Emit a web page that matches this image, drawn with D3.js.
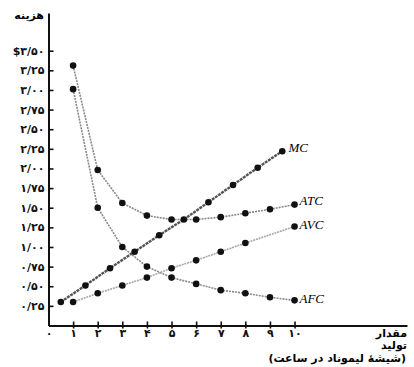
<!DOCTYPE html>
<html>
<head>
<meta charset="utf-8">
<script src="https://cdn.jsdelivr.net/npm/d3@7"></script>
<style>
  body { margin: 0; background: #fff; }
  .fa { font-family: "DejaVu Sans", sans-serif; font-weight: bold; }
  .curve-label { font-family: "Liberation Serif", serif; font-style: italic; font-size: 13px; }
</style>
</head>
<body>
<div id="chart"></div>
<script>
// quantities (lemonade bottles per hour)
var quantities = [1, 2, 3, 4, 5, 6, 7, 8, 9, 10];
var atcValues = [3.31, 1.98, 1.56, 1.40, 1.35, 1.35, 1.38, 1.43, 1.48, 1.54];
var afcValues = [3.01, 1.50, 1.00, 0.75, 0.61, 0.53, 0.45, 0.41, 0.36, 0.32];
// AVC has no dot drawn at 9
var avcQuantities = [1, 2, 3, 4, 5, 6, 7, 8, 10];
var avcValues = [0.30, 0.41, 0.51, 0.61, 0.73, 0.83, 0.94, 1.05, 1.26];
// MC is plotted between quantities
var mcQuantities = [0.5, 1.5, 2.5, 3.5, 4.5, 5.5, 6.5, 7.5, 8.5, 9.5];
var mcValues = [0.30, 0.51, 0.73, 0.94, 1.15, 1.35, 1.57, 1.79, 2.01, 2.22];

var yTicks = [0.25, 0.5, 0.75, 1, 1.25, 1.5, 1.75, 2, 2.25, 2.5, 2.75, 3, 3.25, 3.5];
var yTickLabels = ["۰/۲۵", "۰/۵۰", "۰/۷۵", "۱/۰۰", "۱/۲۵", "۱/۵۰", "۱/۷۵", "۲/۰۰",
                   "۲/۲۵", "۲/۵۰", "۲/۷۵", "۳/۰۰", "۳/۲۵", "$۳/۵۰"];
var xTicks = [0, 1, 2, 3, 4, 5, 6, 7, 8, 9, 10];
var xTickLabels = ["۰", "۱", "۲", "۳", "۴", "۵", "۶", "۷", "۸", "۹", "۱۰"];

var svgWidth = 414;
var svgHeight = 367;

var svg = d3.select("#chart")
            .append("svg")
            .attr("width", svgWidth)
            .attr("height", svgHeight);

var x = d3.scaleLinear().domain([0, 14.57]).range([48.5, 407]);
var y = d3.scaleLinear().domain([0, 3.98]).range([325.5, 13]);

// y axis
var yAxis = d3.axisLeft(y)
    .tickValues(yTicks)
    .tickSizeInner(-5)
    .tickSizeOuter(0)
    .tickPadding(4)
    .tickFormat((d, i) => yTickLabels[i]);

var yG = svg.append("g")
    .attr("transform", `translate(${x(0)},0)`)
    .call(yAxis);
yG.select(".domain").attr("stroke", "#111").attr("stroke-width", 2);
yG.selectAll(".tick line").attr("stroke", "#111").attr("stroke-width", 1.6);
yG.selectAll(".tick text")
  .attr("class", "fa")
  .attr("font-size", 11)
  .attr("fill", "#111");

// x axis
var xAxis = d3.axisBottom(x)
    .tickValues(xTicks)
    .tickSizeInner(3)
    .tickSizeOuter(0)
    .tickFormat((d, i) => xTickLabels[i]);

var xG = svg.append("g")
    .attr("transform", `translate(0,${y(0)})`)
    .call(xAxis);
xG.select(".domain").attr("stroke", "#111").attr("stroke-width", 2);
xG.selectAll(".tick line")
  .attr("y1", -4).attr("y2", 3)
  .attr("stroke", "#111").attr("stroke-width", 1.6)
  .filter(d => d === 0).remove();
xG.selectAll(".tick text")
  .attr("class", "fa")
  .attr("font-size", 11)
  .attr("fill", "#111")
  .attr("y", 8)
  .attr("dy", "0.35em");

// axis titles
svg.append("text").attr("class", "fa")
   .attr("x", 44).attr("y", 19)
   .attr("text-anchor", "end")
   .attr("font-size", 11)
   .text("هزینه");

var xTitle = svg.append("g").attr("class", "fa").attr("font-size", 11).attr("text-anchor", "end");
xTitle.append("text").attr("x", 407).attr("y", 337).text("مقدار");
xTitle.append("text").attr("x", 407).attr("y", 349).text("تولید");
xTitle.append("text").attr("x", 406).attr("y", 362).text("(شیشهٔ لیموناد در ساعت)");

// curves
var line = d3.line().x(d => x(d[0])).y(d => y(d[1]));

var curves = [
    { name: "AFC", qs: quantities, vs: afcValues, color: "#8a8a8a", width: 1.6, dash: "2,1" },
    { name: "ATC", qs: quantities, vs: atcValues, color: "#8a8a8a", width: 1.6, dash: "2,1" },
    { name: "AVC", qs: avcQuantities, vs: avcValues, color: "#a8a8a8", width: 1.6, dash: "2,0.8" },
    { name: "MC", qs: mcQuantities, vs: mcValues, color: "#555", width: 2.4, dash: "3,0.8" }
];

curves.forEach(function(c) {
    var pts = c.qs.map((q, i) => [q, c.vs[i]]);
    svg.append("path")
       .datum(pts)
       .attr("d", line)
       .attr("fill", "none")
       .attr("stroke", c.color)
       .attr("stroke-width", c.width)
       .attr("stroke-dasharray", c.dash);
    svg.append("g").selectAll("circle")
       .data(pts)
       .enter()
       .append("circle")
       .attr("cx", d => x(d[0]))
       .attr("cy", d => y(d[1]))
       .attr("r", 3.3)
       .attr("fill", "#111");
});

// curve labels
var labels = [
    { text: "MC", q: 9.75, v: 2.27 },
    { text: "ATC", q: 10.2, v: 1.59 },
    { text: "AVC", q: 10.2, v: 1.29 },
    { text: "AFC", q: 10.2, v: 0.34 }
];
svg.selectAll(".curve-label")
   .data(labels)
   .enter()
   .append("text")
   .attr("class", "curve-label")
   .attr("x", d => x(d.q))
   .attr("y", d => y(d.v))
   .attr("dy", "0.35em")
   .text(d => d.text);
</script>
</body>
</html>
